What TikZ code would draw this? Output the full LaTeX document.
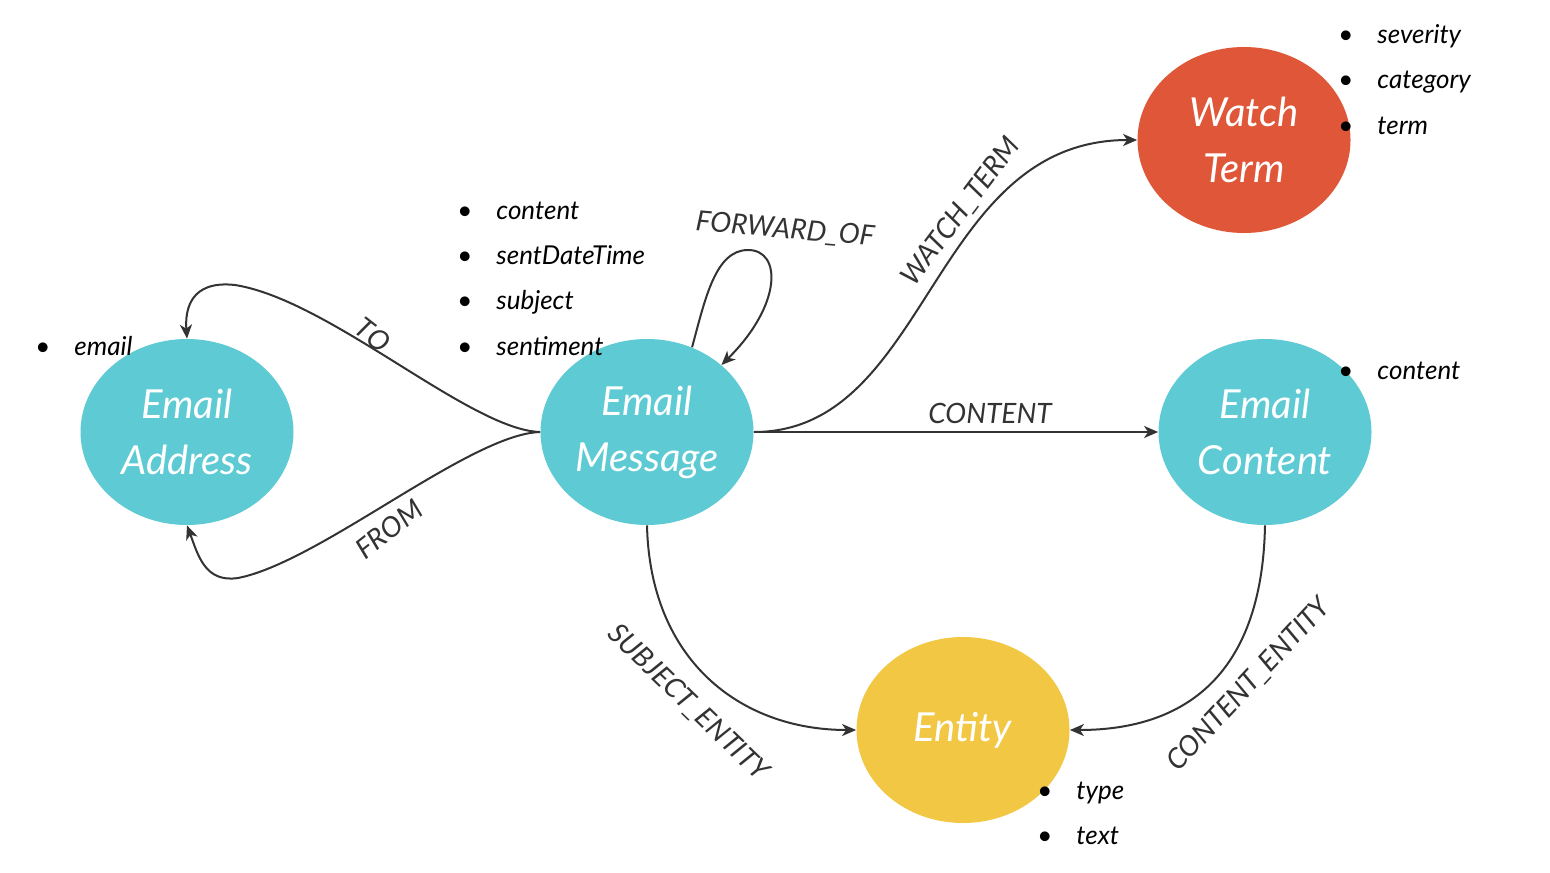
\documentclass[tikz,border=0pt]{standalone}
\usepackage{fontspec}
\setmainfont{Lato}
\usetikzlibrary{shapes.geometric,arrows.meta}
\definecolor{cteal}{HTML}{5ECAD3}
\definecolor{cred}{HTML}{E05638}
\definecolor{cyellow}{HTML}{F2C744}
\definecolor{cline}{HTML}{333333}
\newcommand{\bul}[1]{\makebox[19.5pt][l]{\textbullet}#1}
\begin{document}
\begin{tikzpicture}[x=0.5pt,y=-0.5pt,
  ent/.style={ellipse, minimum width=106.5pt, minimum height=93pt, inner sep=0pt,
    text=white, font=\itshape\fontsize{20}{28}\selectfont, align=center},
  rel/.style={draw=cline, line width=1pt, -{Stealth[length=7pt,width=6pt,inset=2pt]}},
  lab/.style={font=\itshape\fontsize{14}{16}\selectfont, text=cline, inner sep=1pt},
  item/.style={font=\itshape\fontsize{13}{15}\selectfont, text=black, anchor=base west, inner sep=0pt}]
\useasboundingbox (0,0) rectangle (1550,872);
\fill[white] (0,0) rectangle (1550,872);

% entities
\node[ent, fill=cteal] (addr) at (187,432) {Email\\Address};
\node[ent, fill=cteal] (msg) at (647,432) {Email\\Message};
\node[ent, fill=cteal] (cont) at (1265,432) {Email\\Content};
\node[ent, fill=cred] (watch) at (1244,140) {Watch\\Term};
\node[ent, fill=cyellow] (entity) at (963,730) {Entity};

% connectors
\draw[rel] (msg.west) .. controls (470,430) and (330,300) .. (235,285)
  .. controls (190,280) and (185,310) .. (addr.north);
\draw[rel] (msg.west) .. controls (470,434) and (320,562) .. (238,578)
  .. controls (205,583) and (198,555) .. (addr.south);
\draw[rel] (msg.62) .. controls (705,300) and (715,250) .. (748,250)
  .. controls (782,250) and (782,305) .. (msg.42);
\draw[rel] (msg.east) .. controls (930,432) and (930,140) .. (watch.west);
\draw[rel] (msg.east) -- (cont.west);
\draw[rel] (msg.south) .. controls (650,660) and (740,730) .. (entity.west);
\draw[rel] (cont.south) .. controls (1262,680) and (1180,730) .. (entity.east);

% connector labels
\node[lab, rotate=-38] (lto) at (373,335) {TO};
\node[lab, rotate=38] (lfrom) at (389,529) {FROM};
\node[lab, rotate=-5] (lfwd) at (785,230) {FORWARD\_OF};
\node[lab, rotate=53] (lwatch) at (961,212) {WATCH\_TERM};
\node[lab, rotate=0] (lcont) at (990,413) {CONTENT};
\node[lab, rotate=-44] (lsubj) at (688,703) {SUBJECT\_ENTITY};
\node[lab, rotate=47] (lcent) at (1249,685) {CONTENT\_ENTITY};

% property lists
\node[item] (p1) at (35,355) {\bul{email}};
\node[item] (p2) at (457,219) {\bul{content}};
\node[item] (p3) at (457,264) {\bul{sentDateTime}};
\node[item] (p4) at (457,309) {\bul{subject}};
\node[item] (p5) at (457,355) {\bul{sentiment}};
\node[item] (p6) at (1338,44) {\bul{severity}};
\node[item] (p7) at (1338,89) {\bul{category}};
\node[item] (p8) at (1338,134) {\bul{term}};
\node[item] (p9) at (1338,379) {\bul{content}};
\node[item] (p10) at (1037,799) {\bul{type}};
\node[item] (p11) at (1037,844) {\bul{text}};
\end{tikzpicture}
\end{document}
